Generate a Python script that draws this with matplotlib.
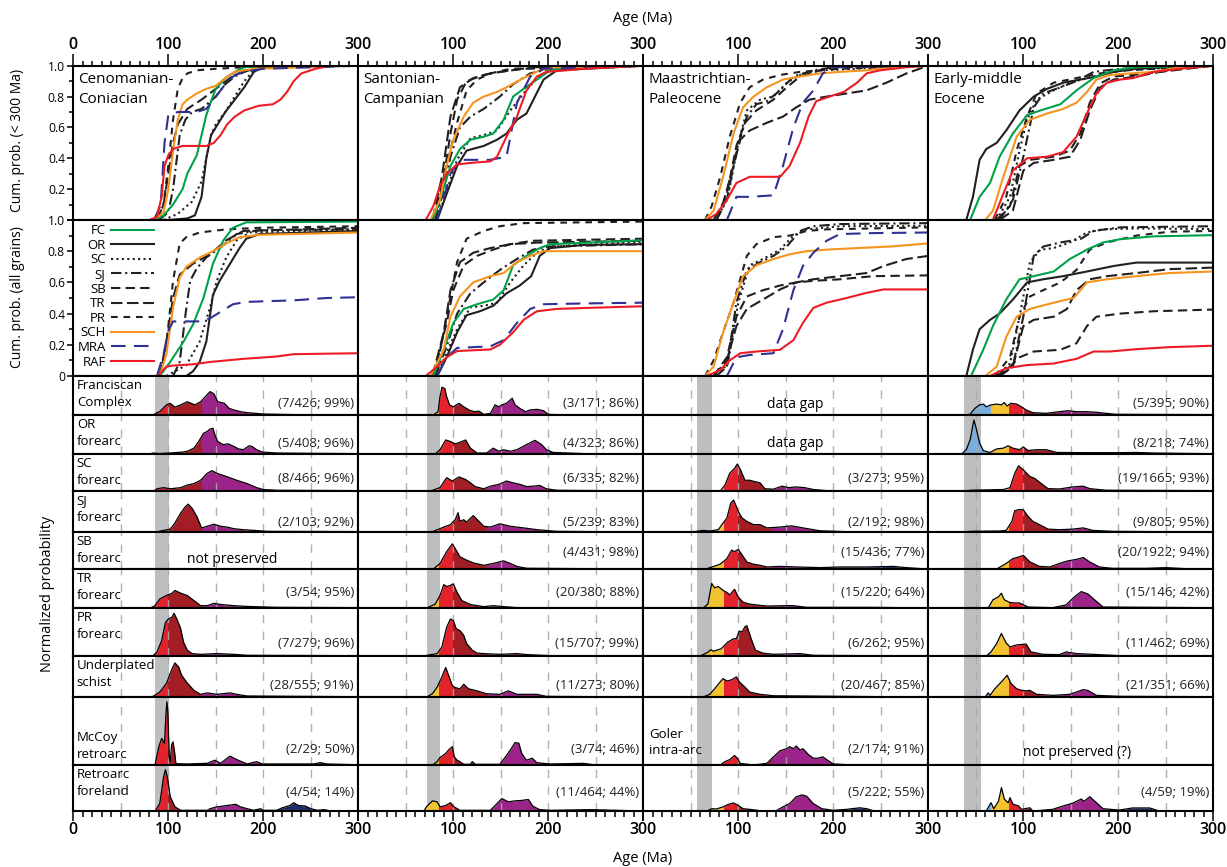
"""
Detrital zircon ages: cumulative probability and normalized probability plots
"""
import matplotlib.pyplot as plt
from matplotlib.patches import Rectangle
from matplotlib.lines import Line2D
from matplotlib.ticker import MultipleLocator

plt.rcParams['font.family'] = ['Open Sans', 'DejaVu Sans']

# ---------------------------------------------------------------- data
PERIODS = ['Cenomanian-\nConiacian', 'Santonian-\nCampanian',
           'Maastrichtian-\nPaleocene', 'Early-middle\nEocene']
DEPO_AGES = [(86.3, 100.5), (72.1, 86.3), (56.0, 72.1), (37.8, 56.0)]
UNITS = ['FC', 'OR', 'SC', 'SJ', 'SB', 'TR', 'PR', 'SCH', 'MRA', 'RAF']
ROW_LABELS = ['Franciscan\nComplex', 'OR\nforearc', 'SC\nforearc', 'SJ\nforearc',
              'SB\nforearc', 'TR\nforearc', 'PR\nforearc', 'Underplated\nschist',
              'McCoy\nretroarc', 'Retroarc\nforeland']
ROWS = ['Fr', 'OR', 'SC', 'SJ', 'SB', 'TR', 'PR', 'UP', 'MC', 'RF']

# cumulative probability (< 300 Ma), (age, prob)
CUM300_CENO = {
    'FC': [(85, 0), (95, .03), (105, .1), (115, .2), (120, .3), (125, .36), (130, .42), (135, .55), (140, .68), (145, .77), (150, .85), (160, .92), (170, .96), (180, .99), (200, 1), (300, 1)],
    'OR': [(100, 0), (120, .01), (128, .03), (135, .15), (140, .4), (145, .55), (152, .62), (160, .7), (170, .78), (180, .86), (190, .96), (200, .99), (300, 1)],
    'SC': [(95, 0), (110, .04), (125, .12), (135, .25), (140, .4), (145, .55), (150, .62), (160, .7), (170, .8), (180, .9), (190, .97), (200, .99), (300, 1)],
    'SJ': [(90, 0), (100, .05), (105, .2), (108, .35), (112, .55), (118, .65), (125, .7), (135, .72), (150, .8), (160, .88), (170, .93), (180, .96), (195, .99), (300, 1)],
    'TR': [(88, 0), (95, .1), (100, .3), (105, .5), (110, .62), (120, .72), (135, .78), (150, .85), (165, .92), (180, .97), (200, .99), (300, 1)],
    'PR': [(88, 0), (95, .1), (100, .35), (105, .65), (110, .85), (115, .92), (120, .95), (130, .97), (150, .98), (180, .99), (200, 1), (300, 1)],
    'SCH': [(85, 0), (95, .05), (100, .2), (105, .45), (110, .65), (115, .75), (120, .78), (130, .82), (140, .85), (150, .87), (160, .92), (170, .96), (190, .98), (250, .99), (270, 1), (300, 1)],
    'MRA': [(85, 0), (92, .1), (96, .5), (100, .68), (110, .7), (130, .7), (140, .72), (150, .8), (160, .88), (170, .94), (180, .96), (200, .98), (250, .99), (300, 1)],
    'RAF': [(80, 0), (88, .02), (93, .15), (96, .35), (100, .42), (105, .46), (115, .48), (140, .48), (148, .5), (155, .55), (162, .62), (170, .67), (180, .71), (195, .74), (210, .75), (218, .78), (225, .83), (232, .9), (240, .95), (255, .98), (270, 1), (300, 1)],
}
CUM300_SANT = {
    'FC': [(79, 0), (88, .17), (97, .35), (107, .46), (118, .52), (132, .54), (142, .56), (153, .65), (163, .8), (174, .85), (188, .91), (202, .97), (219, .99), (300, 1)],
    'OR': [(83, 0), (93, .17), (104, .35), (114, .45), (132, .48), (146, .52), (156, .56), (167, .65), (177, .69), (186, .8), (195, .91), (209, .97), (300, 1)],
    'SC': [(83, 0), (93, .19), (104, .39), (118, .53), (132, .55), (146, .58), (160, .71), (174, .82), (188, .92), (202, .97), (300, 1)],
    'SJ': [(81, 0), (90, .19), (97, .41), (107, .6), (118, .67), (132, .72), (149, .8), (163, .88), (181, .95), (202, .98), (300, 1)],
    'SB': [(79, 0), (90, .28), (97, .56), (104, .78), (114, .9), (132, .94), (149, .96), (174, .98), (300, 1)],
    'TR': [(78, 0), (88, .28), (97, .67), (107, .86), (121, .92), (139, .95), (160, .97), (184, .99), (300, 1)],
    'PR': [(81, 0), (93, .35), (104, .63), (114, .84), (125, .91), (139, .95), (160, .98), (300, 1)],
    'SCH': [(76, 0), (86, .13), (93, .35), (100, .52), (111, .67), (121, .76), (132, .8), (146, .83), (156, .86), (174, .92), (191, .97), (209, .99), (300, 1)],
    'MRA': [(83, 0), (92, .19), (97, .3), (107, .39), (139, .39), (156, .41), (167, .76), (181, .93), (195, .98), (300, 1)],
    'RAF': [(71, 0), (79, .09), (86, .22), (93, .3), (104, .36), (118, .37), (139, .38), (146, .41), (156, .54), (167, .67), (177, .84), (188, .93), (198, .96), (219, .97), (237, .98), (300, 1)],
}
CUM300_MAAS = {
    'SC': [(77, 0), (89, .15), (100, .5), (109, .71), (123, .78), (137, .8), (151, .89), (165, .94), (186, .97), (300, 1)],
    'SJ': [(77, 0), (88, .13), (98, .45), (109, .67), (119, .75), (130, .77), (144, .84), (158, .93), (179, .97), (200, .99), (300, 1)],
    'SB': [(77, 0), (88, .17), (98, .48), (107, .63), (119, .71), (137, .78), (151, .86), (165, .93), (186, .97), (207, .99), (300, 1)],
    'TR': [(74, 0), (84, .11), (95, .35), (102, .52), (112, .58), (130, .63), (147, .67), (161, .73), (175, .78), (193, .8), (214, .82), (235, .84), (256, .89), (277, .95), (300, 1)],
    'PR': [(65, 0), (72, .09), (81, .28), (91, .54), (102, .76), (112, .86), (126, .91), (144, .94), (165, .96), (186, .97), (207, .98), (300, 1)],
    'SCH': [(65, 0), (74, .06), (84, .28), (95, .56), (105, .73), (116, .8), (130, .86), (147, .91), (165, .93), (186, .95), (207, .96), (235, .97), (263, .99), (300, 1)],
    'MRA': [(88, 0), (98, .15), (112, .15), (137, .16), (147, .35), (158, .6), (168, .76), (179, .84), (189, .95), (200, .99), (300, 1)],
    'RAF': [(67, 0), (77, .04), (88, .13), (98, .24), (112, .28), (144, .28), (154, .35), (165, .5), (174, .67), (182, .77), (196, .8), (211, .83), (225, .89), (235, .95), (249, .97), (277, .99), (300, 1)],
}
CUM300_EOC = {
    'FC': [(44, 0), (54, .15), (65, .24), (75, .41), (89, .56), (104, .68), (118, .71), (139, .75), (156, .84), (174, .92), (195, .97), (219, .99), (300, 1)],
    'OR': [(40, 0), (47, .15), (54, .39), (61, .46), (72, .5), (82, .58), (96, .71), (111, .8), (125, .85), (142, .89), (160, .91), (177, .93), (195, .96), (219, .98), (254, .99), (300, 1)],
    'SC': [(72, 0), (86, .15), (96, .45), (104, .65), (114, .78), (132, .84), (149, .89), (174, .93), (202, .97), (300, 1)],
    'SJ': [(75, 0), (89, .13), (100, .41), (111, .73), (121, .82), (139, .86), (156, .9), (174, .96), (202, .98), (300, 1)],
    'SB': [(72, 0), (86, .09), (96, .35), (107, .39), (132, .41), (149, .45), (160, .56), (170, .76), (181, .885), (195, .93), (216, .94), (244, .96), (272, .99), (300, 1)],
    'TR': [(75, 0), (89, .06), (100, .32), (111, .37), (132, .39), (149, .41), (160, .52), (170, .71), (181, .86), (195, .91), (219, .93), (244, .96), (300, 1)],
    'PR': [(70, 0), (82, .15), (93, .45), (104, .67), (114, .82), (132, .89), (156, .92), (181, .95), (209, .97), (300, 1)],
    'SCH': [(60, 0), (68, .06), (79, .28), (93, .54), (107, .65), (125, .69), (142, .72), (156, .76), (167, .83), (177, .91), (191, .94), (212, .95), (237, .96), (265, .99), (300, 1)],
    'RAF': [(68, 0), (79, .17), (89, .32), (104, .4), (125, .41), (142, .44), (156, .54), (167, .69), (177, .82), (188, .89), (202, .91), (216, .92), (237, .96), (265, .98), (300, 1)],
}

# cumulative probability (all grains)
CUMALL_CENO = {
    'FC': [(91, 0), (102, .09), (116, .22), (126, .33), (137, .5), (147, .72), (158, .87), (168, .95), (182, .985), (300, .99)],
    'OR': [(119, 0), (126, .03), (133, .09), (140, .22), (147, .52), (154, .61), (165, .72), (175, .82), (182, .88), (196, .91), (300, .93)],
    'SC': [(98, 0), (119, .07), (133, .22), (144, .44), (151, .61), (161, .76), (172, .87), (186, .92), (300, .94)],
    'SJ': [(105, 0), (112, .09), (118, .39), (123, .61), (130, .69), (140, .76), (154, .82), (172, .91), (196, .935), (300, .94)],
    'TR': [(91, 0), (98, .22), (105, .5), (112, .65), (126, .72), (144, .78), (161, .87), (179, .93), (300, .95)],
    'PR': [(91, 0), (98, .2), (105, .61), (112, .85), (119, .89), (133, .92), (161, .94), (196, .95), (300, .96)],
    'SCH': [(91, 0), (98, .14), (105, .44), (112, .63), (119, .7), (133, .76), (147, .8), (161, .85), (175, .89), (196, .905), (300, .92)],
    'MRA': [(88, 0), (95, .14), (100, .29), (105, .35), (133, .35), (144, .37), (168, .46), (182, .475), (232, .485), (267, .5), (300, .505)],
    'RAF': [(89, 0), (98, .06), (105, .067), (126, .075), (144, .09), (179, .11), (214, .125), (232, .14), (300, .146)],
}
CUMALL_SANT = {
    'FC': [(79, 0), (90, .17), (100, .34), (111, .43), (125, .46), (142, .49), (153, .55), (163, .71), (177, .77), (191, .82), (202, .845), (300, .87)],
    'OR': [(83, 0), (93, .12), (104, .28), (114, .39), (128, .415), (142, .45), (156, .53), (170, .58), (182, .64), (191, .77), (202, .82), (237, .84), (300, .845)],
    'SC': [(83, 0), (93, .15), (104, .3), (118, .44), (132, .45), (146, .47), (160, .6), (174, .71), (188, .79), (202, .83), (300, .86)],
    'SJ': [(81, 0), (93, .19), (104, .4), (118, .53), (132, .6), (149, .68), (167, .75), (184, .81), (202, .83), (300, .845)],
    'SB': [(79, 0), (93, .34), (100, .55), (111, .71), (125, .77), (142, .81), (160, .845), (184, .867), (300, .88)],
    'TR': [(78, 0), (90, .28), (97, .55), (107, .73), (121, .79), (139, .82), (160, .845), (188, .855), (300, .867)],
    'PR': [(81, 0), (93, .38), (104, .73), (114, .88), (132, .93), (149, .96), (174, .98), (300, .99)],
    'SCH': [(76, 0), (90, .17), (97, .38), (107, .51), (121, .6), (139, .64), (153, .66), (167, .73), (181, .77), (195, .8), (300, .8)],
    'MRA': [(83, 0), (93, .12), (104, .18), (139, .19), (153, .23), (167, .34), (181, .43), (195, .46), (237, .465), (300, .47)],
    'RAF': [(71, 0), (83, .06), (93, .12), (104, .16), (139, .17), (149, .2), (163, .28), (174, .36), (188, .415), (209, .43), (244, .437), (300, .447)],
}
CUMALL_MAAS = {
    'SC': [(77, 0), (89, .08), (100, .47), (112, .71), (126, .75), (144, .81), (158, .9), (172, .94), (207, .96), (300, .963)],
    'SJ': [(77, 0), (88, .06), (98, .47), (109, .68), (123, .73), (137, .77), (151, .83), (165, .93), (179, .96), (207, .974), (300, .98)],
    'SB': [(74, 0), (88, .12), (98, .38), (109, .51), (126, .55), (144, .58), (161, .6), (179, .61), (207, .62), (242, .64), (300, .645)],
    'TR': [(74, 0), (88, .1), (98, .32), (109, .43), (126, .49), (144, .555), (161, .6), (179, .62), (207, .64), (235, .66), (253, .705), (277, .75), (300, .77)],
    'PR': [(65, 0), (74, .1), (84, .28), (95, .47), (109, .77), (119, .845), (137, .89), (154, .9), (172, .93), (193, .94), (242, .946), (300, .953)],
    'SCH': [(65, 0), (74, .06), (84, .28), (95, .47), (105, .64), (119, .71), (137, .75), (154, .78), (172, .8), (193, .81), (225, .82), (260, .83), (300, .85)],
    'MRA': [(88, 0), (98, .12), (112, .135), (137, .146), (147, .3), (158, .55), (168, .705), (179, .79), (193, .867), (207, .91), (242, .916), (300, .92)],
    'RAF': [(67, 0), (81, .04), (91, .1), (102, .146), (119, .157), (144, .168), (158, .23), (168, .34), (179, .437), (193, .47), (214, .5), (235, .533), (253, .555), (300, .555)],
}
CUMALL_EOC = {
    'FC': [(45, 0), (58, .17), (68, .32), (82, .49), (96, .62), (111, .64), (132, .67), (149, .75), (167, .81), (184, .856), (202, .877), (237, .895), (300, .903)],
    'OR': [(40, 0), (47, .17), (54, .3), (65, .36), (75, .4), (89, .49), (104, .6), (121, .62), (142, .64), (167, .67), (195, .705), (219, .727), (300, .727)],
    'SC': [(72, 0), (86, .08), (96, .38), (107, .73), (118, .81), (132, .82), (149, .856), (167, .92), (184, .94), (219, .946), (300, .942)],
    'SJ': [(75, 0), (89, .06), (100, .38), (111, .77), (121, .83), (139, .856), (160, .877), (174, .93), (202, .953), (300, .96)],
    'SB': [(72, 0), (86, .06), (96, .12), (111, .157), (139, .168), (156, .21), (167, .32), (177, .38), (202, .4), (237, .415), (300, .426)],
    'TR': [(75, 0), (89, .06), (100, .32), (111, .36), (132, .38), (146, .43), (156, .55), (170, .62), (188, .64), (219, .66), (254, .685), (300, .695)],
    'PR': [(70, 0), (86, .12), (96, .38), (107, .51), (121, .55), (139, .6), (156, .68), (170, .81), (188, .856), (219, .9), (254, .925), (300, .93)],
    'SCH': [(60, 0), (72, .06), (82, .25), (93, .38), (107, .43), (132, .47), (153, .5), (167, .6), (188, .62), (219, .64), (254, .66), (300, .67)],
    'RAF': [(65, 0), (82, .05), (104, .07), (132, .08), (156, .11), (174, .157), (191, .157), (219, .172), (254, .185), (300, .194)],
}

# normalized probability, (age, fraction of panel height)
DENS_CENO = {
    'Fr': [(0, 0), (81, 0), (86, .02), (88, .06), (91, .085), (98, .26), (102, .3), (107, .2), (113, .26), (120, .34), (124, .3), (128, .26), (134, .34), (139, .47), (144, .6), (148, .54), (152, .34), (156, .32), (159, .3), (164, .17), (169, .13), (176, .085), (183, .06), (193, .04), (200, .025), (232, .01), (285, 0), (300, 0)],
    'OR': [(0, 0), (80, 0), (84, .025), (90, .01), (102, .025), (115, .05), (120, .07), (127, .15), (132, .32), (137, .53), (141, .58), (144, .64), (147, .66), (149, .49), (152, .32), (155, .28), (158, .24), (163, .26), (169, .195), (174, .13), (179, .11), (185, .21), (188, .195), (193, .11), (199, .05), (214, .025), (250, .017), (295, .01), (300, 0)],
    'SC': [(0, 0), (85, 0), (88, .06), (95, .09), (102, .06), (113, .09), (120, .16), (127, .2), (134, .29), (141, .48), (146, .55), (151, .48), (162, .385), (172, .29), (183, .2), (193, .09), (200, .04), (214, .02), (295, .01), (300, 0)],
    'SJ': [(0, 0), (88, 0), (91, .02), (102, .07), (107, .22), (113, .46), (118, .62), (121, .68), (125, .58), (130, .38), (135, .1), (141, .14), (148, .19), (155, .14), (162, .12), (169, .08), (179, .056), (190, .04), (204, .016), (295, .01), (300, 0)],
    'TR': [(0, 0), (81, 0), (86, .06), (91, .23), (98, .32), (104, .38), (107, .45), (113, .38), (120, .32), (127, .19), (134, .06), (141, .06), (148, .12), (155, .09), (169, .06), (183, .04), (197, .03), (214, .017), (295, .01), (300, 0)],
    'PR': [(0, 0), (80, 0), (84, .01), (88, .08), (93, .32), (97, .7), (100, .77), (104, .81), (106, .89), (109, .77), (113, .57), (116, .29), (120, .12), (125, .05), (134, .035), (151, .05), (169, .035), (183, .014), (295, .007), (300, 0)],
    'UP': [(0, 0), (80, 0), (84, .016), (91, .12), (98, .33), (104, .69), (107, .83), (111, .73), (114, .53), (120, .34), (127, .16), (134, .065), (141, .1), (151, .065), (165, .1), (172, .065), (183, .024), (295, .008), (300, 0)],
    'MC': [(0, 0), (86, 0), (90, .27), (93, .39), (96, .32), (97.5, .75), (98.5, .93), (99.5, .78), (101, .1), (102, .05), (103.5, .3), (105, .34), (106.5, .2), (108, .02), (120, .015), (141, .025), (149, .07), (155, .025), (162, .1), (165, .13), (172, .08), (183, .015), (193, .05), (199, .015), (253, .015), (260, .035), (267, .015), (295, .005), (300, 0)],
    'RF': [(0, 0), (86, 0), (91, .16), (95, .74), (97, .9), (99, .74), (102, .31), (107, .09), (113, .015), (141, .015), (144, .05), (151, .09), (155, .1), (162, .12), (171, .146), (176, .09), (183, .05), (190, .015), (197, .05), (200, .015), (214, .015), (220, .07), (228, .12), (232, .18), (237, .12), (244, .11), (250, .05), (257, .015), (264, .03), (271, 0), (300, 0)],
}
DENS_SANT = {
    'Fr': [(0, 0), (79, 0), (84, .085), (86, .47), (88, .71), (91, .68), (93, .47), (96, .26), (100, .21), (106, .3), (111, .21), (118, .11), (123, .085), (127, .1), (132, .017), (139, .04), (144, .26), (148, .21), (151, .26), (156, .3), (162, .43), (165, .26), (170, .17), (176, .085), (181, .13), (188, .145), (195, .11), (200, .017), (209, .01), (300, 0)],
    'OR': [(0, 0), (81, 0), (86, .11), (92, .36), (97, .32), (102, .26), (107, .3), (113, .36), (118, .15), (125, .025), (135, .025), (142, .15), (148, .07), (153, .11), (160, .07), (167, .11), (177, .24), (186, .35), (193, .24), (198, .11), (205, .04), (237, .01), (300, 0)],
    'SC': [(0, 0), (76, 0), (86, .09), (93, .36), (99, .27), (106, .38), (113, .31), (118, .22), (123, .12), (132, .06), (139, .13), (148, .18), (156, .27), (163, .22), (170, .18), (177, .12), (184, .13), (191, .15), (198, .06), (209, .02), (300, 0)],
    'SJ': [(0, 0), (72, 0), (79, .016), (90, .12), (97, .18), (102, .3), (105, .47), (107, .26), (111, .3), (114, .24), (121, .4), (127, .26), (132, .14), (139, .12), (149, .2), (160, .14), (174, .1), (188, .057), (209, .016), (300, 0)],
    'SB': [(0, 0), (79, 0), (86, .15), (93, .47), (99, .68), (103, .51), (107, .33), (114, .24), (121, .165), (132, .1), (142, .15), (153, .22), (160, .15), (167, .07), (177, .02), (300, 0)],
    'TR': [(0, 0), (72, 0), (81, .1), (86, .32), (90, .6), (93, .55), (97, .58), (100, .62), (104, .4), (109, .19), (118, .09), (132, .035), (142, .06), (153, .035), (167, .01), (300, 0)],
    'PR': [(0, 0), (70, 0), (72, .014), (83, .05), (88, .19), (93, .6), (97, .77), (100, .74), (103, .57), (107, .53), (111, .43), (114, .26), (120, .12), (125, .06), (132, .05), (149, .035), (167, .05), (177, .03), (202, .007), (300, 0)],
    'UP': [(0, 0), (72, 0), (78, .08), (83, .24), (88, .49), (92, .72), (95, .53), (99, .28), (102, .23), (107, .2), (111, .31), (116, .2), (125, .15), (135, .08), (149, .065), (158, .15), (167, .065), (188, .065), (198, .016), (300, 0)],
    'MC': [(0, 0), (78, 0), (83, .05), (86, .11), (92, .17), (95, .22), (99, .27), (101, .12), (104, .07), (107, .05), (109, .024), (112, .01), (118, .01), (120, .05), (123, .01), (149, .01), (155, .12), (160, .22), (165, .33), (169, .32), (172, .17), (177, .07), (183, .1), (188, .034), (202, .015), (237, .024), (250, 0), (300, 0)],
    'RF': [(0, 0), (69, 0), (72, .1), (78, .22), (83, .2), (86, .09), (92, .12), (97, .18), (100, .1), (107, .015), (139, .015), (146, .16), (151, .27), (158, .2), (165, .22), (172, .23), (179, .25), (184, .1), (191, .03), (202, .015), (244, .03), (300, 0)],
}
DENS_MAAS = {
    'SC': [(0, 0), (81, 0), (86, .16), (91, .48), (96, .61), (99, .73), (102, .59), (107, .29), (112, .29), (118, .25), (123, .22), (128, .06), (137, .05), (146, .13), (153, .09), (161, .11), (170, .09), (179, .04), (193, .01), (300, 0)],
    'SJ': [(0, 0), (50, 0), (56, .016), (63, .04), (70, .024), (79, .056), (84, .22), (88, .34), (92, .7), (95, .78), (98, .62), (100, .5), (104, .34), (109, .26), (116, .18), (123, .18), (130, .1), (144, .12), (156, .15), (168, .1), (186, .03), (214, .008), (300, 0)],
    'SB': [(0, 0), (60, 0), (67, .01), (81, .13), (88, .28), (93, .51), (96, .47), (100, .53), (104, .38), (109, .19), (116, .13), (123, .1), (130, .055), (144, .07), (161, .055), (186, .037), (207, .055), (235, .055), (263, .07), (277, .037), (298, 0), (300, 0)],
    'TR': [(0, 0), (63, 0), (68, .1), (72, .63), (75, .52), (79, .55), (84, .45), (88, .4), (91, .33), (96, .48), (100, .28), (105, .15), (112, .1), (130, .05), (151, .06), (158, .06), (172, .017), (242, .017), (300, 0)],
    'PR': [(0, 0), (60, 0), (68, .08), (71, .13), (74, .1), (82, .15), (89, .29), (95, .36), (98, .36), (101, .52), (104, .5), (107, .61), (109, .63), (113, .39), (118, .12), (126, .06), (137, .035), (165, .05), (179, .014), (300, 0)],
    'UP': [(0, 0), (63, 0), (70, .065), (75, .2), (81, .37), (84, .45), (88, .39), (93, .42), (98, .49), (101, .37), (107, .24), (112, .12), (123, .065), (137, .03), (172, .024), (207, .016), (300, 0)],
    'MC': [(0, 0), (81, 0), (86, .05), (91, .08), (96, .14), (99, .1), (102, .024), (116, 0), (130, .024), (137, .12), (144, .21), (151, .24), (154, .27), (158, .24), (161, .28), (165, .22), (168, .24), (174, .15), (179, .1), (184, .1), (189, .12), (195, .06), (200, .015), (214, .005), (300, 0)],
    'RF': [(0, 0), (67, 0), (72, .05), (77, .044), (84, .09), (89, .14), (95, .175), (100, .12), (105, .05), (112, .036), (123, .007), (140, .007), (147, .09), (154, .16), (161, .31), (167, .35), (172, .32), (179, .16), (188, .05), (200, .015), (214, .036), (228, .07), (235, .05), (242, .007), (300, 0)],
}
DENS_EOC = {
    'Fr': [(0, 0), (40, 0), (44, .02), (49, .17), (54, .26), (58, .28), (61, .21), (66, .26), (72, .28), (77, .26), (80, .32), (83, .23), (87, .3), (93, .28), (98, .21), (103, .13), (110, .06), (124, .043), (138, .085), (147, .11), (156, .085), (166, .085), (177, .07), (187, .043), (198, .017), (295, .01), (300, 0)],
    'OR': [(0, 0), (35, 0), (40, .11), (44, .36), (47, .75), (48, .87), (50, .7), (54, .28), (58, .085), (65, .04), (72, .13), (79, .15), (84, .21), (89, .15), (96, .11), (100, .18), (105, .09), (114, .11), (124, .11), (135, .04), (166, .034), (201, .034), (219, .04), (236, .025), (295, .008), (300, 0)],
    'SC': [(0, 0), (40, 0), (44, .02), (79, .04), (86, .09), (91, .48), (95, .68), (100, .57), (107, .39), (112, .34), (119, .2), (126, .064), (138, .055), (152, .11), (163, .13), (170, .064), (187, .02), (295, .01), (300, 0)],
    'SJ': [(0, 0), (40, 0), (44, .016), (75, .024), (82, .04), (88, .26), (91, .52), (96, .55), (100, .54), (105, .38), (110, .26), (117, .18), (126, .07), (138, .056), (152, .07), (163, .1), (173, .04), (194, .016), (300, 0)],
    'SB': [(0, 0), (72, 0), (82, .15), (89, .28), (96, .33), (100, .37), (107, .19), (117, .07), (128, .055), (138, .15), (147, .22), (156, .26), (163, .31), (170, .19), (180, .055), (194, .018), (229, .018), (250, .037), (278, 0), (300, 0)],
    'TR': [(0, 0), (63, 0), (68, .21), (74, .29), (77, .38), (80, .21), (86, .14), (91, .13), (96, .13), (105, .025), (131, .008), (145, .08), (154, .29), (161, .42), (168, .36), (175, .21), (184, .025), (295, .008), (300, 0)],
    'PR': [(0, 0), (61, 0), (66, .085), (72, .26), (77, .47), (82, .27), (86, .19), (93, .23), (103, .25), (108, .085), (121, .035), (138, .028), (145, .085), (156, .05), (173, .035), (201, .007), (300, 0)],
    'UP': [(0, 0), (60, 0), (63, .1), (65, .04), (70, .2), (77, .37), (83, .53), (87, .33), (93, .2), (100, .15), (107, .16), (114, .065), (131, .04), (149, .065), (163, .18), (168, .16), (177, .04), (201, .016), (295, .008), (300, 0)],
    'RF': [(0, 0), (61, 0), (66, .18), (69, .05), (74, .22), (77, .51), (80, .26), (84, .18), (86, .29), (89, .15), (95, .11), (98, .036), (107, .07), (110, 0), (131, .036), (142, .11), (152, .17), (161, .26), (164, .21), (170, .31), (177, .18), (184, .05), (201, .02), (215, .066), (233, .066), (243, 0), (300, 0)],
}

STATS_CENO = ['(7/426; 99%)', '(5/408; 96%)', '(8/466; 96%)', '(2/103; 92%)', None,
              '(3/54; 95%)', '(7/279; 96%)', '(28/555; 91%)', '(2/29; 50%)', '(4/54; 14%)']
STATS_SANT = ['(3/171; 86%)', '(4/323; 86%)', '(6/335; 82%)', '(5/239; 83%)', '(4/431; 98%)',
              '(20/380; 88%)', '(15/707; 99%)', '(11/273; 80%)', '(3/74; 46%)', '(11/464; 44%)']
STATS_MAAS = [None, None, '(3/273; 95%)', '(2/192; 98%)', '(15/436; 77%)',
              '(15/220; 64%)', '(6/262; 95%)', '(20/467; 85%)', '(2/174; 91%)', '(5/222; 55%)']
STATS_EOC = ['(5/395; 90%)', '(8/218; 74%)', '(19/1665; 93%)', '(9/805; 95%)', '(20/1922; 94%)',
             '(15/146; 42%)', '(11/462; 69%)', '(21/351; 66%)', None, '(4/59; 19%)']

# gaps: (column, row, text, age, height fraction)
GAP_NOTES = [(0, 'SB', 'not preserved', 167, 0.27),
             (2, 'Fr', 'data gap', 160, 0.26),
             (2, 'OR', 'data gap', 160, 0.26),
             (3, 'MC', 'not preserved (?)', 157, 0.19)]

# age bins for shading the probability curves
AGE_BINS = [(0, 66), (66, 85), (85, 100), (100, 135), (135, 200), (200, 300)]
BIN_COLORS = ['#7aacdc', '#f3c22f', '#e3222b', '#a21d24', '#9c2387', '#1f2c6b']

# ---------------------------------------------------------------- style
STYLE = {
    'FC': dict(color='#00a14b', ls='-'),
    'OR': dict(color='#231f20', ls='-'),
    'SC': dict(color='#231f20', ls=(0, (1, 1.6))),
    'SJ': dict(color='#231f20', ls=(0, (5, 1.8, 1, 1.8))),
    'SB': dict(color='#231f20', ls=(0, (4.5, 2.5))),
    'TR': dict(color='#231f20', ls=(0, (5.5, 2.2))),
    'PR': dict(color='#231f20', ls=(0, (3.2, 2.8))),
    'SCH': dict(color='#f7941d', ls='-'),
    'MRA': dict(color='#2e3192', ls=(0, (7, 4))),
    'RAF': dict(color='#ed1c24', ls='-'),
}
DRAW_ORDER = ['OR', 'SC', 'SJ', 'SB', 'TR', 'PR', 'FC', 'SCH', 'MRA', 'RAF']
STAT_Y = [0.30, 0.26, 0.33, 0.24, 0.45, 0.41, 0.26, 0.27, 0.23, 0.40]

W, H = 1227, 867
COL_X = [73.3, 358.3, 643.3, 928.3]
COL_W = 285.0
CUM_EDGES = [65.7, 220, 376]
DENS_EDGES = [376, 415, 454, 491, 532, 569, 608, 656, 697, 765, 811]
SPINE_LW = 1.5
FS = 9.5


def add_ax(fig, x0, y0, y1):
    ax = fig.add_axes([x0 / W, 1 - y1 / H, COL_W / W, (y1 - y0) / H])
    ax.set_xlim(0, 300)
    for s in ax.spines.values():
        s.set_linewidth(SPINE_LW)
    ax.tick_params(which='both', left=False, bottom=False, labelleft=False,
                   labelbottom=False)
    return ax


def plot_cum(ax, curves):
    for u in DRAW_ORDER:
        if u not in curves:
            continue
        age, p = zip(*curves[u])
        ax.plot(age, p, lw=1.5, **STYLE[u])
    ax.set_ylim(0, 1.0)


def plot_density(ax, pts, depo):
    ax.set_ylim(0, 1)
    ax.axvspan(depo[0], depo[1], color='#bcbec0', lw=0, zorder=0)
    if pts is not None:
        age, y = zip(*pts)
        for (lo, hi), c in zip(AGE_BINS, BIN_COLORS):
            poly = ax.fill_between(age, 0, y, color=c, lw=0, zorder=1)
            rect = Rectangle((lo, -1), hi - lo, 3, transform=ax.transData)
            poly.set_clip_path(rect)
    for a in [50, 100, 150, 200, 250]:
        ax.axvline(a, color='#a7a9ac', lw=1.0, ls=(0, (6, 6)), zorder=2, alpha=0.9)
    if pts is not None:
        ax.plot(age, y, color='black', lw=0.9, zorder=3)


def make_figure(outfile):
    fig = plt.figure(figsize=(W / 100, H / 100), dpi=100)

    cum300 = [CUM300_CENO, CUM300_SANT, CUM300_MAAS, CUM300_EOC]
    cumall = [CUMALL_CENO, CUMALL_SANT, CUMALL_MAAS, CUMALL_EOC]
    dens = [DENS_CENO, DENS_SANT, DENS_MAAS, DENS_EOC]
    stats = [STATS_CENO, STATS_SANT, STATS_MAAS, STATS_EOC]

    for c in range(4):
        x0 = COL_X[c]
        labels = ['0', '100', '200', '300'] if c == 0 else ['', '100', '200', '300']

        # cumulative < 300 Ma
        ax1 = add_ax(fig, x0, CUM_EDGES[0], CUM_EDGES[1])
        plot_cum(ax1, cum300[c])
        ax1.xaxis.tick_top()
        ax1.set_xticks([0, 100, 200, 300])
        ax1.set_xticklabels(labels, fontweight='semibold')
        ax1.xaxis.set_minor_locator(MultipleLocator(10))
        ax1.tick_params(axis='x', which='both', top=True, labeltop=True,
                        direction='out', width=1.1, labelsize=11.5, pad=1)
        ax1.tick_params(axis='x', which='major', length=8.5)
        ax1.tick_params(axis='x', which='minor', length=3.5)
        ax1.annotate(PERIODS[c], xy=(0, 1), xycoords='axes fraction',
                     xytext=(3.5, -4.5), textcoords='offset points',
                     ha='left', va='top', fontsize=11, linespacing=1.5)

        # cumulative all grains
        ax2 = add_ax(fig, x0, CUM_EDGES[1], CUM_EDGES[2])
        plot_cum(ax2, cumall[c])
        ax2.set_xticks([])

        if c == 0:
            for ax, lab in [(ax1, ['', '0.2', '0.4', '0.6', '0.8', '1.0']),
                            (ax2, ['0', '0.2', '0.4', '0.6', '0.8', '1.0'])]:
                ax.set_yticks([0, 0.2, 0.4, 0.6, 0.8, 1.0])
                ax.set_yticklabels(lab)
                ax.yaxis.set_minor_locator(MultipleLocator(0.1))
                ax.tick_params(axis='y', which='both', left=True, labelleft=True,
                               direction='out', width=1.1, labelsize=8.7, pad=2)
                ax.tick_params(axis='y', which='major', length=4)
                ax.tick_params(axis='y', which='minor', length=3)
            handles = [Line2D([], [], lw=1.5, **STYLE[u]) for u in UNITS]
            ax2.legend(handles, UNITS, loc='upper left', bbox_to_anchor=(0.0, 0.998),
                       markerfirst=False, frameon=False, fontsize=9.5,
                       handlelength=3.3, handletextpad=0.4, labelspacing=0.12,
                       borderaxespad=0.2, borderpad=0.1)

        # normalized probability rows
        for r, key in enumerate(ROWS):
            ax = add_ax(fig, x0, DENS_EDGES[r], DENS_EDGES[r + 1])
            plot_density(ax, dens[c].get(key), DEPO_AGES[c])
            ax.set_yticks([])
            if stats[c][r]:
                ax.text(0.985, STAT_Y[r], stats[c][r], transform=ax.transAxes,
                        ha='right', va='center', fontsize=FS, color='#231f20', zorder=5)
            if c == 0:
                if key == 'MC':
                    ax.annotate(ROW_LABELS[r], xy=(0, 0), xycoords='axes fraction',
                                xytext=(2.5, 3), textcoords='offset points',
                                ha='left', va='bottom', fontsize=FS, linespacing=1.4)
                else:
                    ax.annotate(ROW_LABELS[r], xy=(0, 1), xycoords='axes fraction',
                                xytext=(2.5, -2), textcoords='offset points',
                                ha='left', va='top', fontsize=FS, linespacing=1.4)
            if c == 2 and key == 'MC':
                ax.annotate('Goler\nintra-arc', xy=(0, 0), xycoords='axes fraction',
                            xytext=(4, 6), textcoords='offset points',
                            ha='left', va='bottom', fontsize=FS, linespacing=1.3)
            for gc, gkey, txt, gx, gy in GAP_NOTES:
                if gc == c and gkey == key:
                    ax.text(gx, gy, txt, ha='center', va='center', fontsize=FS + 0.5,
                            zorder=5)
            if r == len(ROWS) - 1:
                ax.set_xticks([0, 100, 200, 300])
                ax.set_xticklabels(labels, fontweight='semibold')
                ax.xaxis.set_minor_locator(MultipleLocator(10))
                ax.tick_params(axis='x', which='both', bottom=True, labelbottom=True,
                               direction='out', width=1.1, labelsize=11.5, pad=1)
                ax.tick_params(axis='x', which='major', length=7)
                ax.tick_params(axis='x', which='minor', length=4)
            else:
                ax.set_xticks([])

    fig.text(643 / W, 1 - 18 / H, 'Age (Ma)', ha='center', va='center', fontsize=10.5)
    fig.text(643 / W, 1 - 858 / H, 'Age (Ma)', ha='center', va='center', fontsize=10.5)
    fig.text(18 / W, 1 - 140 / H, 'Cum. prob. (< 300 Ma)', rotation=90,
             ha='center', va='center', fontsize=10)
    fig.text(18 / W, 1 - 297 / H, 'Cum. prob. (all grains)', rotation=90,
             ha='center', va='center', fontsize=10)
    fig.text(48 / W, 1 - 594 / H, 'Normalized probability', rotation=90,
             ha='center', va='center', fontsize=10.5)

    fig.savefig(outfile, dpi=100)


if __name__ == "__main__":
    make_figure('out.png')
